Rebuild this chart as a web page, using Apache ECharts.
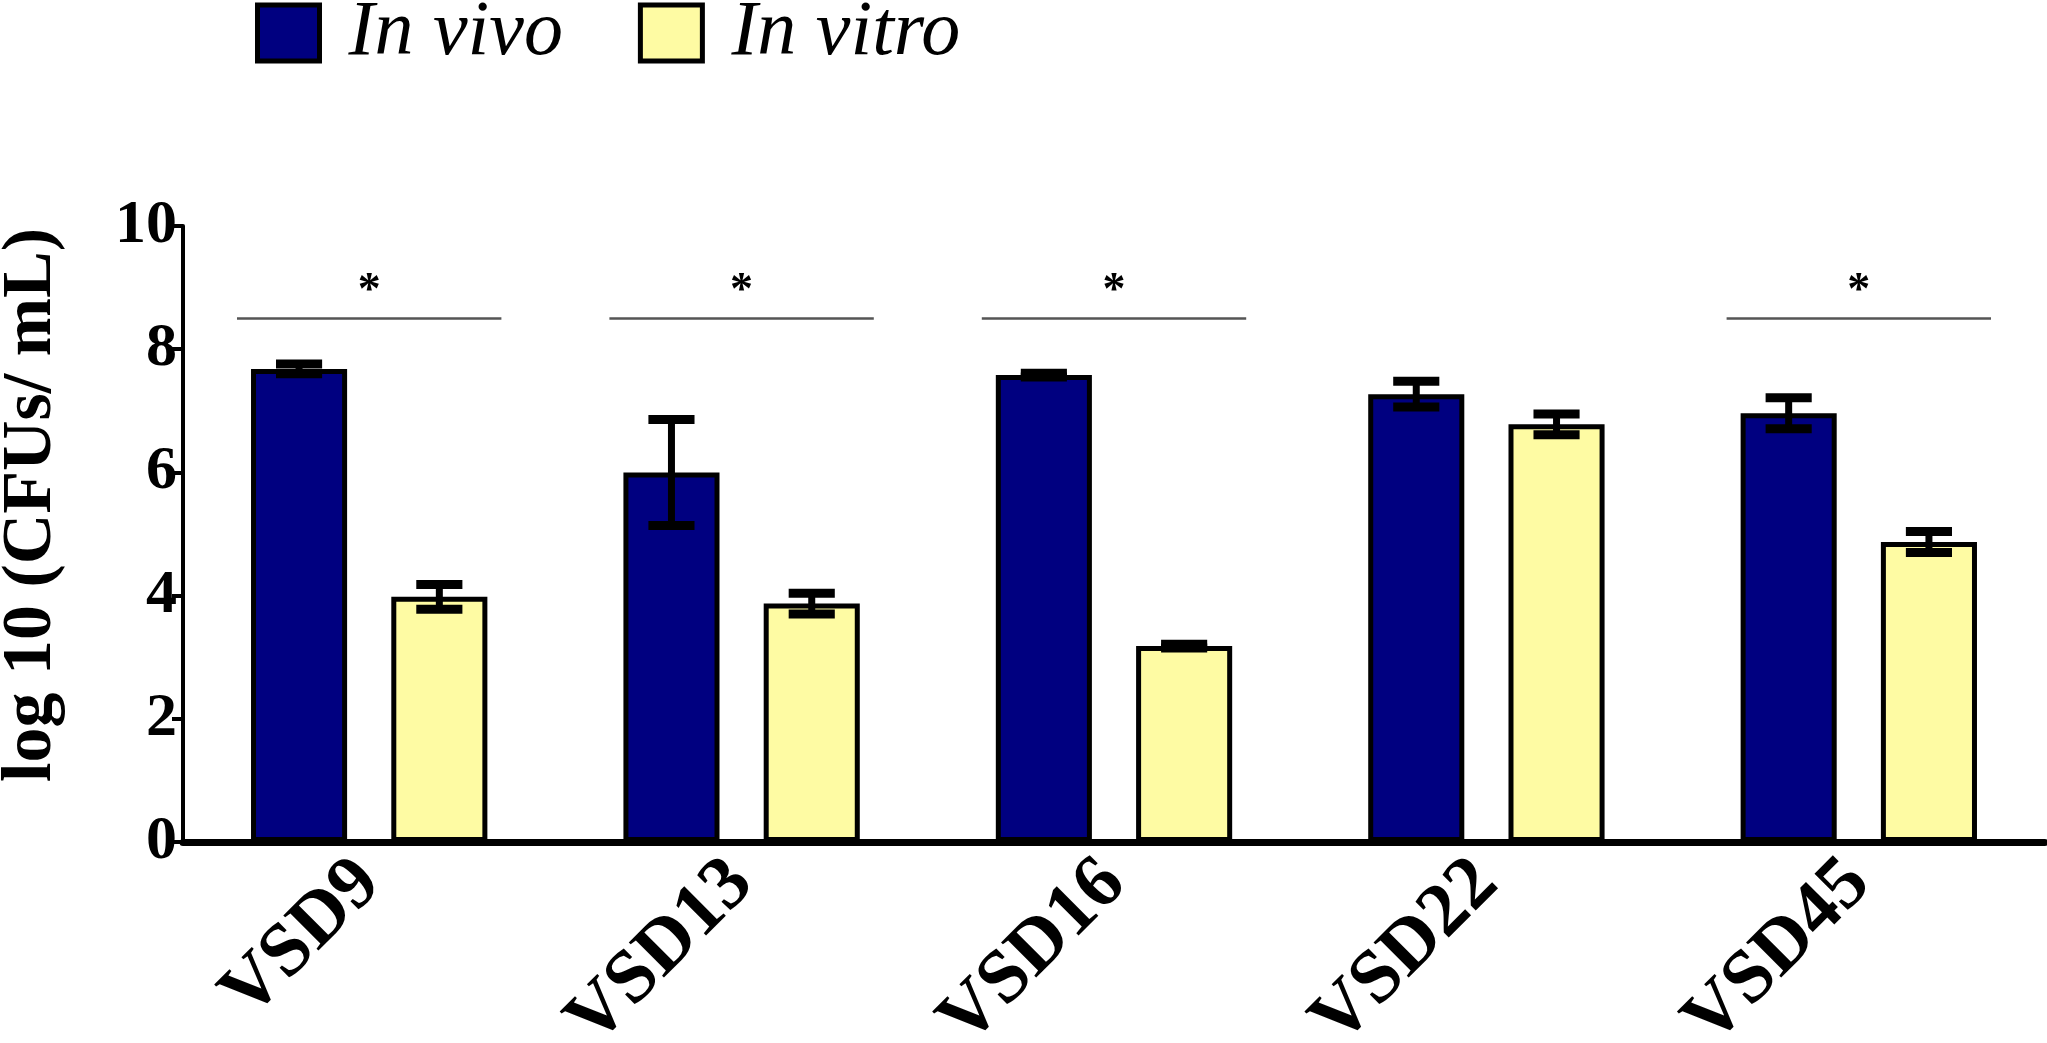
<!DOCTYPE html>
<html>
<head>
<meta charset="utf-8">
<title>log10 CFUs in vivo vs in vitro</title>
<script src="https://cdn.jsdelivr.net/npm/echarts@6/dist/echarts.min.js"></script>
<style>
  html, body { margin: 0; padding: 0; background: #fff; }
  #chart { width: 2047px; height: 1043px; }
</style>
</head>
<body>
<div id="chart"></div>
<script>
// data
var categories = ['VSD9', 'VSD13', 'VSD16', 'VSD22', 'VSD45'];
var inVivo = [7.68, 6.0, 7.58, 7.27, 6.96];
var inVivoErr = [0.08, 0.86, 0.03, 0.21, 0.25];
var inVitro = [3.98, 3.87, 3.18, 6.78, 4.87];
var inVitroErr = [0.2, 0.17, 0.03, 0.17, 0.17];
var sigCategories = ['VSD9', 'VSD13', 'VSD16', 'VSD45'];
var sigLevel = 8.5;
var starLevel = 9.05;
var yTicks = [0, 2, 4, 6, 8, 10];
var yTitle = 'log 10 (CFUs/ mL)';

var FONT = '"Liberation Serif", "Times New Roman", serif';
var NAVY = '#000080';
var PALE = '#FEFBA3';
var BAR_W = 0.258;   // fraction of category band
var BAR_GAP = 0.46;  // fraction of bar width

var myChart = echarts.init(document.getElementById('chart'));

// error bar items: [categoryIndex, mean, err, group]
var errData = [];
for (var i = 0; i < categories.length; i++) {
    errData.push([i, inVivo[i], inVivoErr[i], 0]);
    errData.push([i, inVitro[i], inVitroErr[i], 1]);
}
var sigData = sigCategories.map(function (c) {
    return [categories.indexOf(c), sigLevel, starLevel];
});

function renderErr(params, api) {
    var cat = api.value(0), mean = api.value(1), err = api.value(2), grp = api.value(3);
    var band = api.size([1, 0])[0];
    var off = band * BAR_W * (1 + BAR_GAP) / 2 * (grp === 0 ? -1 : 1);
    var top = api.coord([cat, mean + err]);
    var bot = api.coord([cat, mean - err]);
    var x = top[0] + off;
    var capW = band * BAR_W * 0.48;
    var capH = 9;
    return {
        type: 'group',
        children: [
            { type: 'rect', shape: { x: x - 3.5, y: top[1], width: 7, height: bot[1] - top[1] },
              style: { fill: '#000' } },
            { type: 'rect', shape: { x: x - capW / 2, y: top[1] - capH / 2, width: capW, height: capH },
              style: { fill: '#000' } },
            { type: 'rect', shape: { x: x - capW / 2, y: bot[1] - capH / 2, width: capW, height: capH },
              style: { fill: '#000' } }
        ]
    };
}

function renderSig(params, api) {
    var cat = api.value(0);
    var band = api.size([1, 0])[0];
    var p = api.coord([cat, api.value(1)]);
    var s = api.coord([cat, api.value(2)]);
    var half = band * 0.355;
    return {
        type: 'group',
        children: [
            { type: 'line', shape: { x1: p[0] - half, y1: p[1], x2: p[0] + half, y2: p[1] },
              style: { stroke: '#555', lineWidth: 2.5 } },
            { type: 'text', x: s[0], y: s[1] + 8,
              style: { text: '*', fill: '#000', font: 'bold 46px ' + FONT, align: 'center', verticalAlign: 'middle' } }
        ]
    };
}

var option = {
    animation: false,
    backgroundColor: '#fff',
    legend: {
        left: 250,
        top: -11,
        icon: 'rect',
        itemWidth: 62,
        itemHeight: 56,
        itemGap: 75,
        itemStyle: { borderColor: '#000', borderWidth: 5 },
        textStyle: {
            fontFamily: FONT,
            fontStyle: 'italic',
            fontSize: 78,
            color: '#000',
            padding: [0, 0, 0, 24]
        },
        data: ['In vivo', 'In vitro']
    },
    // y axis title, rotated, left of the tick labels
    graphic: [{
        type: 'text',
        x: 32,
        y: 505,
        rotation: Math.PI / 2,
        style: {
            text: yTitle,
            font: 'bold 70px ' + FONT,
            fill: '#000',
            align: 'center',
            verticalAlign: 'middle'
        }
    }],
    grid: { left: 183, right: 2, top: 226, bottom: 201, containLabel: false, outerBoundsMode: 'none' },
    xAxis: {
        type: 'category',
        data: categories,
        axisLine: { lineStyle: { color: '#000', width: 7 } },
        axisTick: { alignWithLabel: true, length: 20, lineStyle: { color: '#000', width: 5 } },
        axisLabel: {
            rotate: 45,
            margin: 30,
            fontFamily: FONT,
            fontWeight: 'bold',
            fontSize: 76,
            color: '#000'
        }
    },
    yAxis: {
        type: 'value',
        min: 0,
        max: 10,
        interval: 2,
        splitLine: { show: false },
        axisLine: { show: true, lineStyle: { color: '#000', width: 4 } },
        axisTick: { show: true, length: 11, lineStyle: { color: '#000', width: 4 } },
        axisLabel: {
            margin: 6,
            fontFamily: FONT,
            fontWeight: 'bold',
            fontSize: 62,
            color: '#000',
            formatter: function (v) { return yTicks.indexOf(v) >= 0 ? String(v) : ''; }
        }
    },
    series: [
        {
            name: 'In vivo',
            type: 'bar',
            data: inVivo,
            barWidth: (BAR_W * 100) + '%',
            barGap: (BAR_GAP * 100) + '%',
            itemStyle: { color: NAVY, borderColor: '#000', borderWidth: 5 }
        },
        {
            name: 'In vitro',
            type: 'bar',
            data: inVitro,
            barWidth: (BAR_W * 100) + '%',
            barGap: (BAR_GAP * 100) + '%',
            itemStyle: { color: PALE, borderColor: '#000', borderWidth: 5 }
        },
        {
            type: 'custom',
            renderItem: renderErr,
            data: errData,
            z: 5,
            silent: true
        },
        {
            type: 'custom',
            renderItem: renderSig,
            data: sigData,
            z: 5,
            silent: true
        }
    ]
};
myChart.setOption(option);
</script>
</body>
</html>
